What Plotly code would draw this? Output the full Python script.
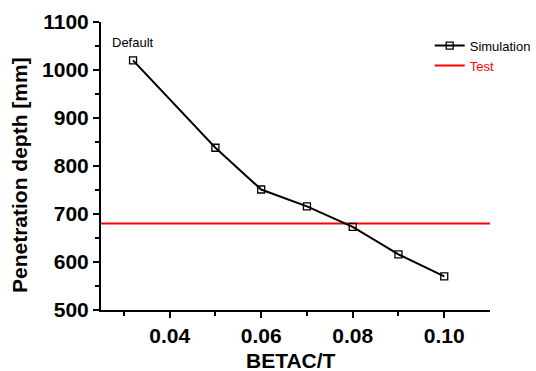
import plotly.graph_objects as go

betac = [0.032, 0.05, 0.06, 0.07, 0.08, 0.09, 0.10]
depth = [1020, 838, 751, 716, 673, 616, 570]
test_x = [0.025, 0.11]
test_y = [680, 680]

fig = go.Figure()
fig.add_trace(go.Scatter(x=test_x, y=test_y, mode="lines",
                         name="<span style='color:#ff0000'>Test</span>",
                         line=dict(color="#ff0000", width=2)))
fig.add_trace(go.Scatter(x=betac, y=depth, mode="lines+markers", name="Simulation",
                         line=dict(color="black", width=2),
                         marker=dict(symbol="square-open", size=7, color="black",
                                     line=dict(width=1.3))))

font = "Liberation Sans, Arial, sans-serif"
fig.update_layout(
    width=536, height=371,
    margin=dict(l=101, r=46, t=22, b=61, autoexpand=False),
    plot_bgcolor="white", paper_bgcolor="white",
    showlegend=True,
    legend=dict(x=0.845, y=0.97, xanchor="left", yanchor="top",
                font=dict(family=font, size=13, color="black"),
                bgcolor="rgba(0,0,0,0)", traceorder="reversed",
                itemwidth=30, tracegroupgap=0),
    annotations=[
        dict(x=0.032, y=1058, text="Default", showarrow=False,
             xanchor="center", yanchor="middle",
             font=dict(family=font, size=13, color="black")),
        dict(xref="paper", yref="paper", x=-0.2095, y=0.467, text="<b>Penetration depth [mm]</b>",
             textangle=-90, showarrow=False, xanchor="center", yanchor="middle",
             font=dict(family=font, size=21, color="black")),
        dict(xref="paper", yref="paper", x=0.488, y=-0.177, text="<b>BETAC/T</b>",
             showarrow=False, xanchor="center", yanchor="middle",
             font=dict(family=font, size=21, color="black")),
    ],
)
fig.update_xaxes(range=[0.025, 0.11], tickvals=[0.04, 0.06, 0.08, 0.10],
                 ticktext=["0.04", "0.06", "0.08", "0.10"], automargin=False,
                 showgrid=False, zeroline=False, showline=True, linecolor="black", linewidth=2,
                 ticks="outside", ticklen=6, tickwidth=2, tickcolor="black",
                 minor=dict(tickvals=[0.03, 0.05, 0.07, 0.09], ticks="outside", ticklen=4,
                            tickwidth=2, tickcolor="black"),
                 tickfont=dict(family=font, size=21, color="black", weight="bold"))
fig.update_yaxes(range=[500, 1100], tickvals=[500, 600, 700, 800, 900, 1000, 1100],
                 automargin=False,
                 showgrid=False, zeroline=False, showline=True, linecolor="black", linewidth=2,
                 ticks="outside", ticklen=6, tickwidth=2, tickcolor="black",
                 minor=dict(tickvals=[550, 650, 750, 850, 950, 1050], ticks="outside", ticklen=4,
                            tickwidth=2, tickcolor="black"),
                 tickfont=dict(family=font, size=21, color="black", weight="bold"))
fig.write_html("out.html")
